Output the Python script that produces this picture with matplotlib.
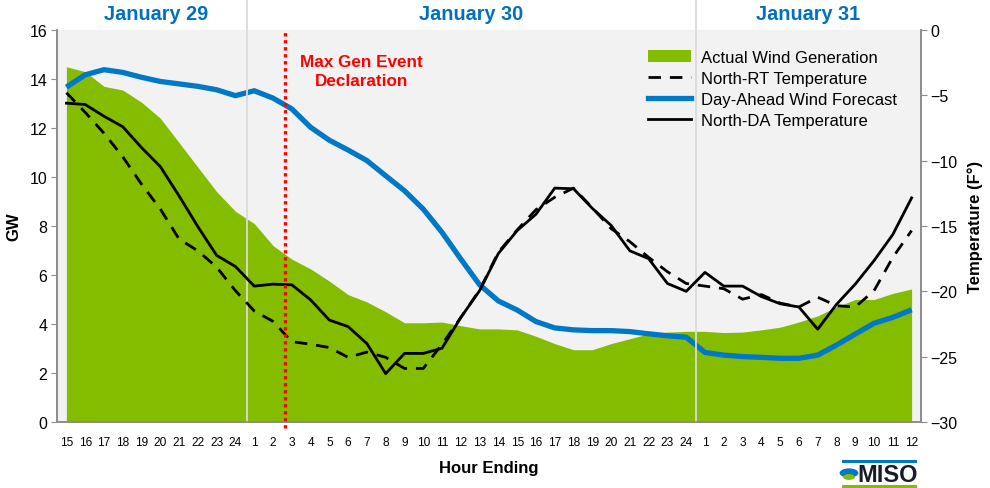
import numpy as np
import matplotlib
matplotlib.use("Agg")
import matplotlib.pyplot as plt
from matplotlib.lines import Line2D
from matplotlib.patches import Patch, Circle

plt.rcParams['font.family'] = ['Liberation Sans', 'DejaVu Sans']

# ---------------- data ----------------
hour_labels = [15, 16, 17, 18, 19, 20, 21, 22, 23, 24,
               1, 2, 3, 4, 5, 6, 7, 8, 9, 10, 11, 12, 13, 14, 15, 16, 17, 18, 19, 20, 21, 22, 23, 24,
               1, 2, 3, 4, 5, 6, 7, 8, 9, 10, 11, 12]

actual_wind = [14.5, 14.3, 13.7, 13.55, 13.05, 12.4, 11.4, 10.4, 9.4, 8.6,
               8.1, 7.2, 6.65, 6.25, 5.75, 5.2, 4.9, 4.5, 4.05, 4.05, 4.08, 3.93, 3.8, 3.8,
               3.76, 3.5, 3.2, 2.95, 2.95, 3.2, 3.4, 3.6, 3.67, 3.7,
               3.7, 3.65, 3.67, 3.76, 3.87, 4.08, 4.33, 4.7, 5.0, 5.0, 5.25, 5.43]

da_forecast = [13.67, 14.17, 14.38, 14.27, 14.07, 13.9, 13.8, 13.7, 13.56, 13.32,
               13.52, 13.22, 12.78, 12.03, 11.5, 11.1, 10.67, 10.05, 9.44, 8.69, 7.74, 6.65, 5.6, 4.94,
               4.57, 4.1, 3.84, 3.76, 3.73, 3.73, 3.69, 3.6, 3.52, 3.46,
               2.84, 2.73, 2.67, 2.64, 2.6, 2.6, 2.73, 3.14, 3.59, 4.03, 4.27, 4.58]

north_da_temp = [-5.6, -5.7, -6.6, -7.4, -9.0, -10.45, -12.7, -15.05, -17.25, -18.1,
                 -19.6, -19.45, -19.5, -20.65, -22.2, -22.7, -24.0, -26.3, -24.75, -24.75, -24.35, -22.0, -19.95, -17.1,
                 -15.35, -14.1, -12.1, -12.15, -13.65, -14.95, -16.9, -17.5, -19.4, -20.0,
                 -18.55, -19.6, -19.6, -20.4, -20.95, -21.2, -22.9, -21.0, -19.45, -17.65, -15.65, -12.85]

north_rt_temp = [-4.8, -6.3, -7.9, -9.7, -11.8, -13.7, -16.0, -16.9, -18.15, -19.95,
                 -21.5, -22.3, -23.85, -24.05, -24.3, -25.05, -24.65, -25.05, -25.9, -25.9, -24.05, -22.0, -19.9, -17.0,
                 -15.3, -13.75, -12.8, -12.1, -13.6, -15.2, -16.2, -17.4, -18.5, -19.4,
                 -19.6, -19.8, -20.6, -20.25, -20.9, -21.2, -20.45, -21.1, -21.2, -19.95, -17.4, -15.35]

day_names = ["January 29", "January 30", "January 31"]
day_label_x = [4.8, 21.55, 39.5]
day_breaks = [9.6, 33.5]
max_gen_x = 11.62

# ---------------- style ----------------
GREEN = '#84BC00'
BLUE = '#0078C8'
HEAD_BLUE = '#0070C0'
BG = '#F2F2F2'
SPINE = '#8C8C8C'

fig = plt.figure(figsize=(9.9, 4.89), dpi=100)
ax1 = fig.add_axes([57/990, 1-423/489, (921-57)/990, (423-31)/489])
ax2 = ax1.twinx()

x = np.arange(len(hour_labels))

ax1.set_facecolor(BG)
ax1.fill_between(x, actual_wind, 0, color=GREEN, lw=0, zorder=2)
ax1.plot(x, da_forecast, color=BLUE, lw=3.8, zorder=3, solid_capstyle='butt')

ax1.set_xlim(-0.5, len(hour_labels) - 0.5)
ax1.set_ylim(0, 16)
ax1.set_yticks(np.arange(0, 17, 2))
ax1.set_xticks(x)
ax1.set_xticklabels([str(h) for h in hour_labels], fontsize=8.6)
ax1.tick_params(axis='x', length=0, pad=10)
ax1.tick_params(axis='y', labelsize=11.5, length=4, color=SPINE, direction='out', pad=3)
ax1.set_ylabel('GW', fontsize=12, fontweight='bold', labelpad=6)
ax1.set_xlabel('Hour Ending', fontsize=12, fontweight='bold', labelpad=9)

ax2.set_ylim(-30, 0)
ax2.set_yticks(np.arange(-30, 1, 5))
ax2.tick_params(axis='y', labelsize=11.5, length=4, color=SPINE, direction='out', pad=3)
ax2.set_ylabel('Temperature (F°)', fontsize=12, fontweight='bold', labelpad=7)

for a in (ax1, ax2):
    a.spines['top'].set_visible(False)
    for s in ('left', 'right', 'bottom'):
        a.spines[s].set_color(SPINE)
        a.spines[s].set_linewidth(1.2)

# day separators (extend into header)
for b in day_breaks:
    ax2.axvline(b, ymin=0, ymax=1 + 31/392, color='#DADADA', lw=1.3, zorder=1.5, clip_on=False)

ax2.plot(x, north_rt_temp, color='black', lw=2.0, ls=(0, (4.5, 3.2)), zorder=4)
ax2.plot(x, north_da_temp, color='black', lw=2.0, zorder=4)

# max gen event line
ax2.axvline(max_gen_x, ymin=-0.015, ymax=1.0, color='#FF0000', lw=2.4, ls=(0, (1, 1.1)),
            zorder=6, clip_on=False)
ax1.text(15.7, 14.33, 'Max Gen Event\nDeclaration', color='#FF0000', fontsize=12.3,
         fontweight='bold', ha='center', va='center', linespacing=1.35, zorder=7)

# day headers
for name, dx in zip(day_names, day_label_x):
    ax1.text(dx, 1 + 17/392, name, transform=ax1.get_xaxis_transform(), ha='center', va='center',
             color=HEAD_BLUE, fontsize=14.3, fontweight='bold')

# legend
handles = [Patch(facecolor=GREEN, edgecolor='none'),
           Line2D([], [], color='black', lw=2.0, ls=(0, (4.5, 3.2))),
           Line2D([], [], color=BLUE, lw=3.8),
           Line2D([], [], color='black', lw=2.0)]
labels = ['Actual Wind Generation', 'North-RT Temperature',
          'Day-Ahead Wind Forecast', 'North-DA Temperature']
leg = ax2.legend(handles, labels, loc='upper left', bbox_to_anchor=((648-57)/864, (423-51)/392),
                 frameon=False, fontsize=12, handlelength=2.6, handletextpad=0.6,
                 labelspacing=0.36, borderpad=0, borderaxespad=0)
leg.set_zorder(8)

# MISO logo
fig.add_artist(Line2D([843/990, 915/990], [1-462/489, 1-462/489], color=BLUE, lw=2.2))
fig.add_artist(Line2D([843/990, 915/990], [1-487/489, 1-487/489], color=GREEN, lw=2.2))
fig.add_artist(Circle((849/990, 1-474/489), 0.0095, transform=fig.transFigure,
                      facecolor=BLUE, edgecolor='none'))
fig.add_artist(Circle((849/990, 1-478/489), 0.006, transform=fig.transFigure,
                      facecolor=GREEN, edgecolor='none'))
fig.text(857/990, 1-476/489, 'MISO', ha='left', va='center', fontsize=17,
         fontweight='bold', color='#1A1A2E')

fig.savefig('out.png', dpi=100, facecolor='white')
